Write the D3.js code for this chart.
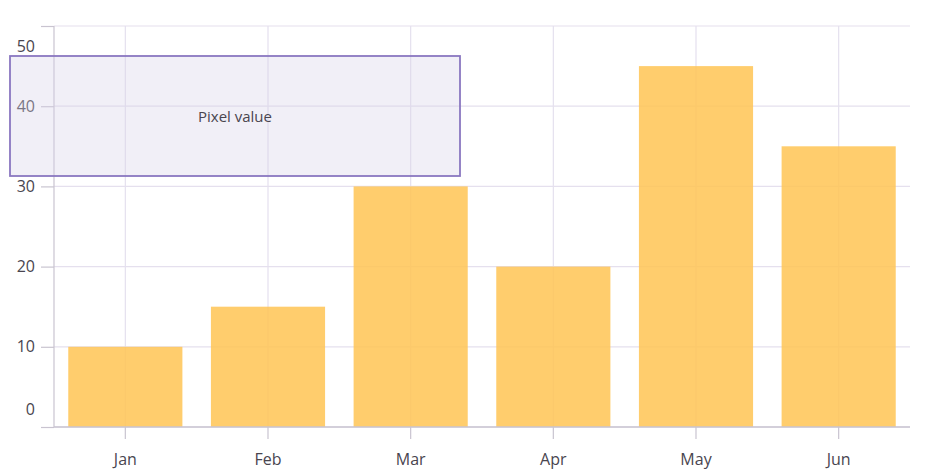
<!DOCTYPE html>
<html>
<head>
<meta charset="utf-8">
<script src="https://cdn.jsdelivr.net/npm/d3@7"></script>
<style>
  body { margin: 0; background: #fff; }
  text { font-family: "Open Sans", "Noto Sans", sans-serif; fill: #49454f; }
</style>
</head>
<body>
<div id="chart"></div>
<script>
// chart data
var months = ["Jan", "Feb", "Mar", "Apr", "May", "Jun"];
var sales = [10, 15, 30, 20, 45, 35];
var yTicks = [0, 10, 20, 30, 40, 50];
var noteText = "Pixel value";

var W = 932, H = 472;
var margin = { top: 26, right: 22, bottom: 45, left: 54 };
var width = W - margin.left - margin.right,
    height = H - margin.top - margin.bottom;

var svg = d3.select("#chart").append("svg")
    .attr("width", W)
    .attr("height", H);

var g = svg.append("g")
    .attr("transform", "translate(" + margin.left + "," + margin.top + ")");

var x = d3.scaleBand().domain(months).range([0, width])
    .paddingInner(0.2).paddingOuter(0.1);
var y = d3.scaleLinear().domain([0, 50]).range([height, 0]);

// horizontal grid
g.selectAll(".hgrid")
    .data(yTicks)
    .enter().append("line")
    .attr("x1", 0).attr("x2", width)
    .attr("y1", function(d) { return y(d); })
    .attr("y2", function(d) { return y(d); })
    .attr("stroke", "#e5e0ee")
    .attr("stroke-width", 1.2);

// vertical grid at category centres
g.selectAll(".vgrid")
    .data(months)
    .enter().append("line")
    .attr("x1", function(d) { return x(d) + x.bandwidth() / 2; })
    .attr("x2", function(d) { return x(d) + x.bandwidth() / 2; })
    .attr("y1", 0).attr("y2", height)
    .attr("stroke", "#e5e0ee")
    .attr("stroke-width", 1.2);

// bars
g.selectAll(".bar")
    .data(sales)
    .enter().append("rect")
    .attr("x", function(d, i) { return x(months[i]); })
    .attr("width", x.bandwidth())
    .attr("y", function(d) { return y(d); })
    .attr("height", function(d) { return y(0) - y(d); })
    .attr("fill", "#ffc454")
    .attr("opacity", 0.85);

// y axis
var yAxis = g.append("g")
    .call(d3.axisLeft(y).tickValues(yTicks).tickSize(13).tickPadding(6));
yAxis.select(".domain").attr("stroke", "#c9c4d0").attr("stroke-width", 1.2)
    .attr("d", "M0," + height + "V0");
yAxis.selectAll(".tick line").attr("stroke", "#c9c4d0").attr("stroke-width", 1.2);
yAxis.selectAll(".tick text")
    .style("font-size", "16px")
    .style("fill", "#49454f")
    .attr("dy", function(d) {
        // shift edge labels inside like the original
        if (d === 50) return "1.6em";
        if (d === 0) return "-0.8em";
        return "0.32em";
    });

// x axis
var xAxis = g.append("g")
    .attr("transform", "translate(0," + height + ")")
    .call(d3.axisBottom(x).tickSize(12).tickPadding(15));
xAxis.select(".domain").attr("stroke", "#c9c4d0").attr("stroke-width", 1.6)
    .attr("d", "M0,0H" + width);
xAxis.selectAll(".tick line").attr("stroke", "#c9c4d0").attr("stroke-width", 1.2);
xAxis.selectAll(".tick text")
    .style("font-size", "16px")
    .style("fill", "#49454f");
yAxis.selectAll("text").attr("font-family", null);
xAxis.selectAll("text").attr("font-family", null);

// pixel annotation
var note = { x: 10, y: 56, w: 450, h: 120 };
svg.append("rect")
    .attr("x", note.x).attr("y", note.y)
    .attr("width", note.w).attr("height", note.h)
    .attr("fill", "#d6d1e8")
    .attr("fill-opacity", 0.35)
    .attr("stroke", "#8a77c0")
    .attr("stroke-width", 1.8);
svg.append("text")
    .attr("x", note.x + note.w / 2)
    .attr("y", note.y + note.h / 2 + 2)
    .attr("text-anchor", "middle")
    .attr("dominant-baseline", "middle")
    .style("font-size", "15px")
    .text(noteText);
</script>
</body>
</html>
